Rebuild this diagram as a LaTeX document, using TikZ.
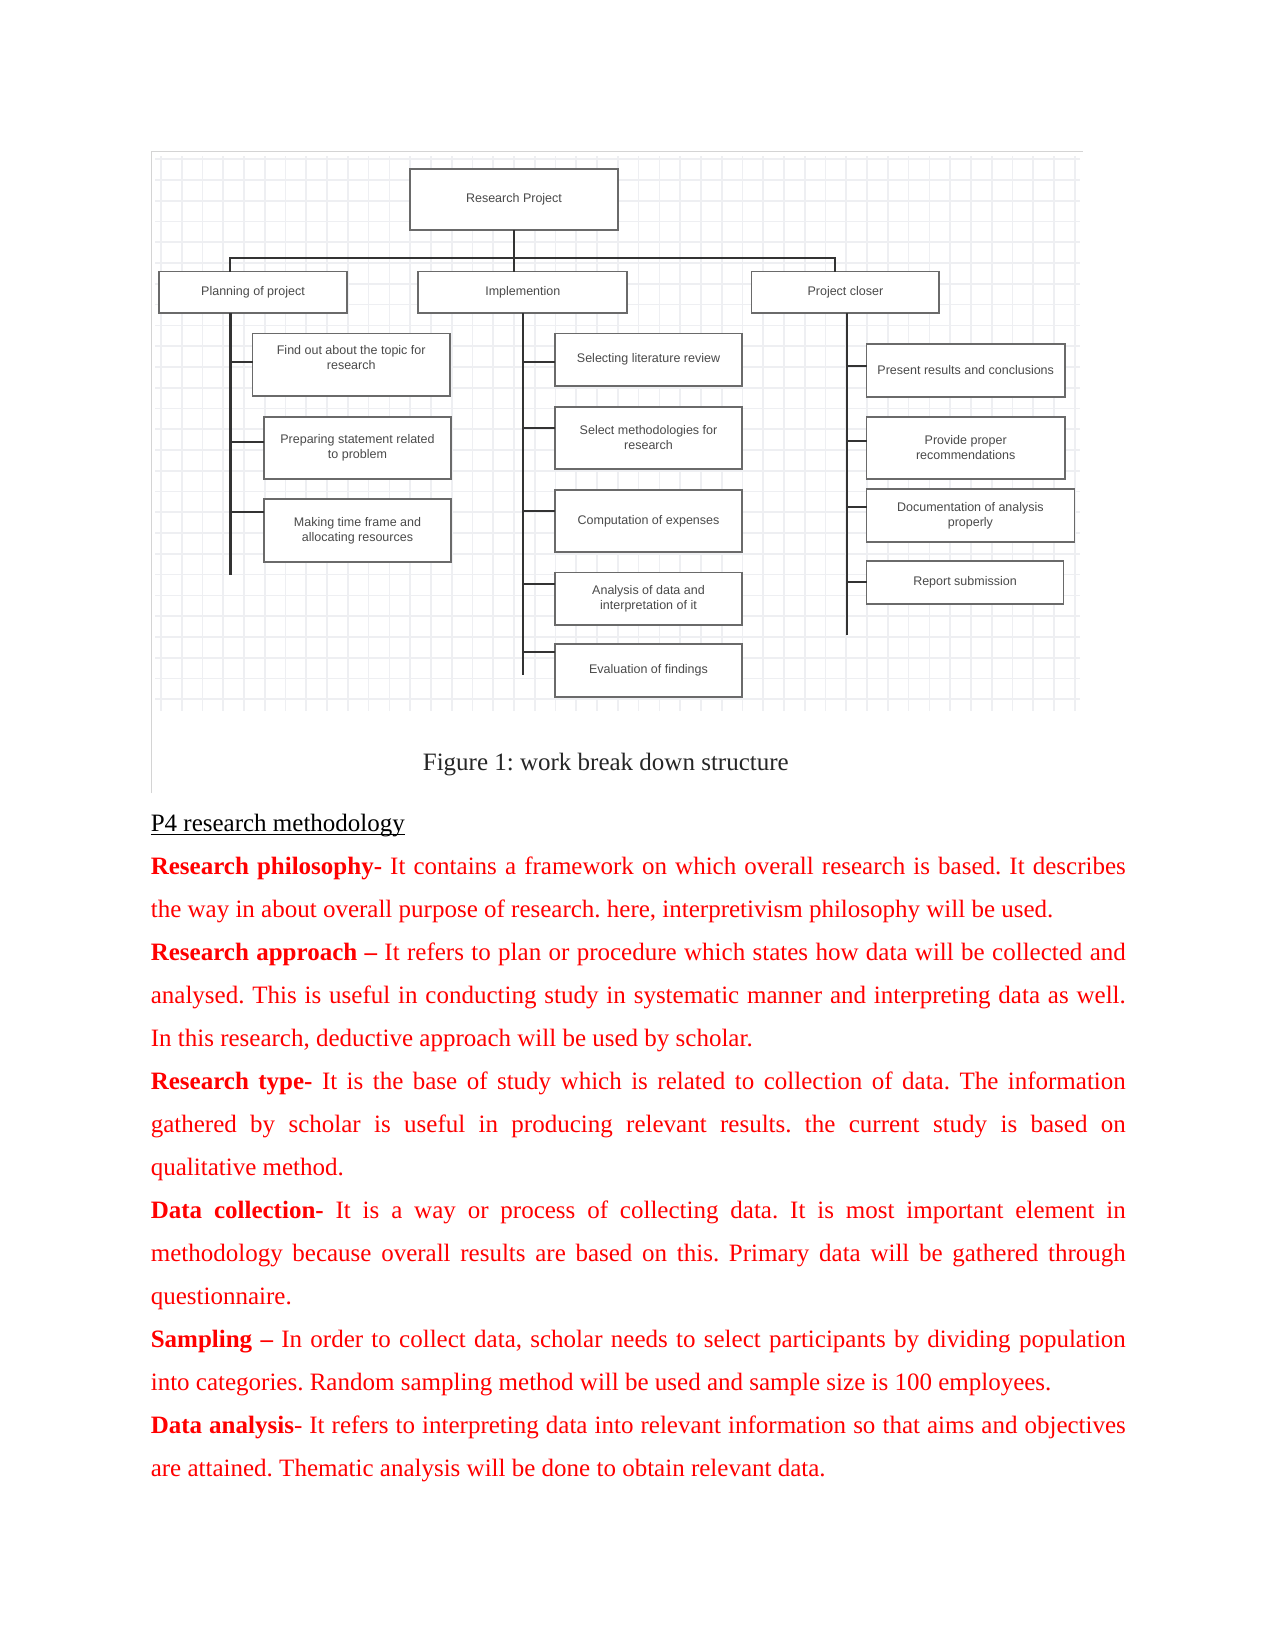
\documentclass[tikz,border=0pt]{standalone}
\usepackage{fontspec}
\setmainfont{Liberation Serif}
\newfontfamily\diagfont{Liberation Sans}
\usepackage{tikz}
\usetikzlibrary{positioning}
\setlength{\parindent}{0pt}
\hyphenpenalty=10000
\frenchspacing
\definecolor{wbsInk}{HTML}{333333}
\definecolor{wbsEdge}{HTML}{6A6A6A}
\definecolor{wbsText}{HTML}{4A4A4A}
\definecolor{wbsGrid}{HTML}{EEEFF2}
\definecolor{wbsFrame}{HTML}{D4D4D4}
\definecolor{bodyRed}{HTML}{FF0000}
\newcommand\ulined[1]{\setbox0=\hbox{#1}\rlap{\rule[-1.6pt]{\wd0}{0.55pt}}\box0}

\begin{document}
\begin{tikzpicture}[
  x=0.48pt, y=-0.48pt,
  font=\diagfont\fontsize{6}{7.2}\selectfont,
  wbsbox/.style={draw=wbsEdge, line width=.8pt, fill=white, text=wbsText, align=center, inner sep=0pt},
  link/.style={draw=wbsInk, line width=1pt, line cap=rect},
  gridline/.style={draw=wbsGrid, line width=.8pt},
  frame/.style={draw=wbsFrame, line width=.5pt},
  caption/.style={anchor=base, inner sep=0pt, text=black!85, font=\rmfamily\fontsize{12}{14}\selectfont},
  bodytext/.style={anchor=base west, inner sep=0pt, text width=468pt, align=justify, text=bodyRed,
    font=\rmfamily\fontsize{12}{20.64}\selectfont}
]
  \useasboundingbox (0,0) rectangle (1275,1650);

  % grid paper behind the chart
  \foreach \k in {0,...,44}
    \draw[gridline] (160.9+20.77*\k,156) -- (160.9+20.77*\k,711);
  \foreach \k in {0,...,26}
    \draw[gridline] (155,159.2+20.77*\k) -- (1080,159.2+20.77*\k);
  \draw[frame] (151.7,793) -- (151.7,151.7) -- (1083,151.7);

  % levels 0 and 1
  \node[wbsbox, minimum width=99.8pt, minimum height=29.3pt] (root) at (514,199.5) {Research Project};
  \node[wbsbox, minimum width=90pt, minimum height=20pt] (plan) at (253,292.5) {Planning of project};
  \node[wbsbox, minimum width=100.3pt, minimum height=20pt] (impl) at (522.8,292.5) {Implemention};
  \node[wbsbox, minimum width=90pt, minimum height=20pt] (close) at (845.4,292.5) {Project closer};

  % planning tasks
  \node[wbsbox, minimum width=94.9pt, minimum height=30.1pt] (find) at (351.2,364.7) {Find out about the topic for\\research\\\mbox{}};
  \node[wbsbox, minimum width=89.8pt, minimum height=29.9pt] (prep) at (357.5,447.9) {Preparing statement related\\to problem};
  \node[wbsbox, minimum width=89.8pt, minimum height=30pt] (making) at (357.5,530.5) {Making time frame and\\allocating resources};

  % implementation tasks
  \node[wbsbox, minimum width=90pt, minimum height=25.3pt] (selecting) at (648.5,359.7) {Selecting literature review};
  \node[wbsbox, minimum width=90pt, minimum height=30pt] (selmeth) at (648.5,438) {Select methodologies for\\research};
  \node[wbsbox, minimum width=89.8pt, minimum height=29.8pt] (comp) at (648.5,521) {Computation of expenses};
  \node[wbsbox, minimum width=90pt, minimum height=25.1pt] (analysis) at (648.5,598.8) {Analysis of data and\\interpretation of it};
  \node[wbsbox, minimum width=90pt, minimum height=25.2pt] (eval) at (648.5,670.5) {Evaluation of findings};

  % closing tasks
  \node[wbsbox, minimum width=95.4pt, minimum height=25.2pt] (present) at (965.7,370.5) {Present results and conclusions};
  \node[wbsbox, minimum width=95.4pt, minimum height=30pt] (provide) at (965.7,448) {Provide proper\\recommendations};
  \node[wbsbox, minimum width=99.9pt, minimum height=25.2pt] (doc) at (970.4,515.5) {Documentation of analysis\\properly};
  \node[wbsbox, minimum width=94.6pt, minimum height=20.6pt] (report) at (965,582.5) {Report submission};

  \coordinate (busL) at (230,257.7);
  \coordinate (busR) at (834.8,257.7);
  \coordinate (planEnd) at (230.5,574.3);
  \coordinate (implEnd) at (523.3,674);
  \coordinate (closeEnd) at (846.8,634);

  \draw[link] (root.south) -- (root.south |- busL);
  \draw[link] (busL) -- (busR);
  \draw[link] (busL) -- (busL |- plan.north);
  \draw[link] (root.south |- busL) -- (root.south |- impl.north);
  \draw[link] (busR) -- (busR |- close.north);
  \draw[link] (planEnd |- plan.south) -- (planEnd);
  \draw[link] (implEnd |- impl.south) -- (implEnd);
  \draw[link] (closeEnd |- close.south) -- (closeEnd);
  \foreach \task/\y in {find/361.7,prep/442.3,making/511.7}
    \draw[link] (planEnd |- 0,\y) -- (\task.west |- 0,\y);
  \foreach \task/\y in {selecting/361.7,selmeth/427.7,comp/511,analysis/584.3,eval/652.3}
    \draw[link] (implEnd |- 0,\y) -- (\task.west |- 0,\y);
  \foreach \task/\y in {present/366,provide/440.7,doc/507,report/581.7}
    \draw[link] (closeEnd |- 0,\y) -- (\task.west |- 0,\y);

  \node[caption] (figcap) at (605.8,770) {Figure 1: work break down structure};

  \node[bodytext] (methods) at (150.4,831.7) {%
    {\color{black}\ulined{P4 research methodology}}\par
    \textbf{Research philosophy-} It contains a framework on which overall research is based. It describes\linebreak
    the way in about overall purpose of research. here, interpretivism philosophy will be used.\par
    \textbf{Research approach –} It refers to plan or procedure which states how data will be collected and\linebreak
    analysed. This is useful in conducting study in systematic manner and interpreting data as well.\linebreak
    In this research, deductive approach will be used by scholar.\par
    \textbf{Research type-} It is the base of study which is related to collection of data. The information\linebreak
    gathered by scholar is useful in producing relevant results. the current study is based on\linebreak
    qualitative method.\par
    \textbf{Data collection-} It is a way or process of collecting data. It is most important element in\linebreak
    methodology because overall results are based on this. Primary data will be gathered through\linebreak
    questionnaire.\par
    \textbf{Sampling –} In order to collect data, scholar needs to select participants by dividing population\linebreak
    into categories. Random sampling method will be used and sample size is 100 employees.\par
    \textbf{Data analysis}- It refers to interpreting data into relevant information so that aims and objectives\linebreak
    are attained. Thematic analysis will be done to obtain relevant data.};
\end{tikzpicture}
\end{document}
